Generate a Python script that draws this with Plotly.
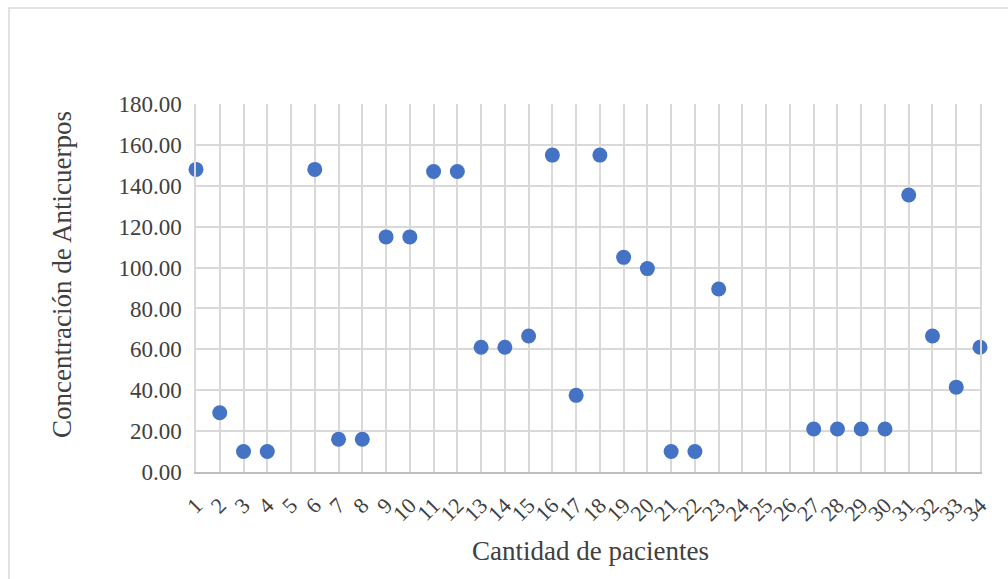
import plotly.graph_objects as go

# Patient index (1..34) and antibody concentration per patient (None = no measurement)
pacientes = list(range(1, 35))
concentracion = [
    148, 29, 10, 10, None, 148, 16, 16, 115, 115,
    147, 147, 61, 61, 66.5, 155, 37.5, 155, 105, 99.5,
    10, 10, 89.5, None, None, None, 21, 21, 21, 21,
    135.5, 66.5, 41.5, 61,
]
y_ticks = [0, 20, 40, 60, 80, 100, 120, 140, 160, 180]

FONT = "Liberation Serif"
TXT = "#404040"
GRID = "#d9d9d9"

W, H = 1008, 579
L, R, T, B = 196, 28, 104, 107
pw, ph = W - L - R, H - T - B

fig = go.Figure()
fig.add_trace(go.Scatter(
    x=pacientes, y=concentracion, mode="markers",
    marker=dict(size=15, color="#4472C4"),
    cliponaxis=False, showlegend=False,
))

fig.update_layout(
    width=W, height=H,
    margin=dict(l=L, r=R, t=T, b=B),
    paper_bgcolor="white", plot_bgcolor="white",
    font=dict(family=FONT, color=TXT),
    xaxis=dict(
        range=[1, 34], tickmode="array", tickvals=pacientes,
        ticktext=[str(p) for p in pacientes], tickangle=-45,
        tickfont=dict(size=22, family=FONT, color=TXT),
        showgrid=True, gridcolor=GRID, gridwidth=1.5,
        showline=True, linecolor="#bfbfbf", linewidth=1.5,
        ticks="", ticklabelstandoff=10, zeroline=False,
    ),
    yaxis=dict(
        range=[0, 180], tickmode="array", tickvals=y_ticks,
        ticktext=[f"{v:.2f}" for v in y_ticks],
        tickfont=dict(size=23, family=FONT, color=TXT),
        showgrid=True, gridcolor=GRID, gridwidth=1.5,
        showline=True, linecolor=GRID, linewidth=1.5, mirror=True,
        ticks="", ticklabelstandoff=8, zeroline=False,
    ),
    annotations=[
        dict(text="Concentración de Anticuerpos", textangle=-90,
             xref="paper", yref="paper",
             x=(62 - L) / pw, y=(H - B - 275) / ph,
             xanchor="center", yanchor="middle", showarrow=False,
             font=dict(size=27, family=FONT, color=TXT)),
        dict(text="Cantidad de pacientes",
             xref="paper", yref="paper",
             x=(590 - L) / pw, y=(H - B - 551) / ph,
             xanchor="center", yanchor="middle", showarrow=False,
             font=dict(size=27, family=FONT, color=TXT)),
    ],
    shapes=[
        # outer chart-area frame
        dict(type="rect", xref="paper", yref="paper", layer="below",
             x0=(9 - L) / pw, x1=(W + 5 - L) / pw,
             y0=(H - B - (H + 5)) / ph, y1=(H - B - 8) / ph,
             line=dict(color="#d9d9d9", width=1.5), fillcolor="rgba(0,0,0,0)"),
    ],
)

fig.write_html("out.html")
